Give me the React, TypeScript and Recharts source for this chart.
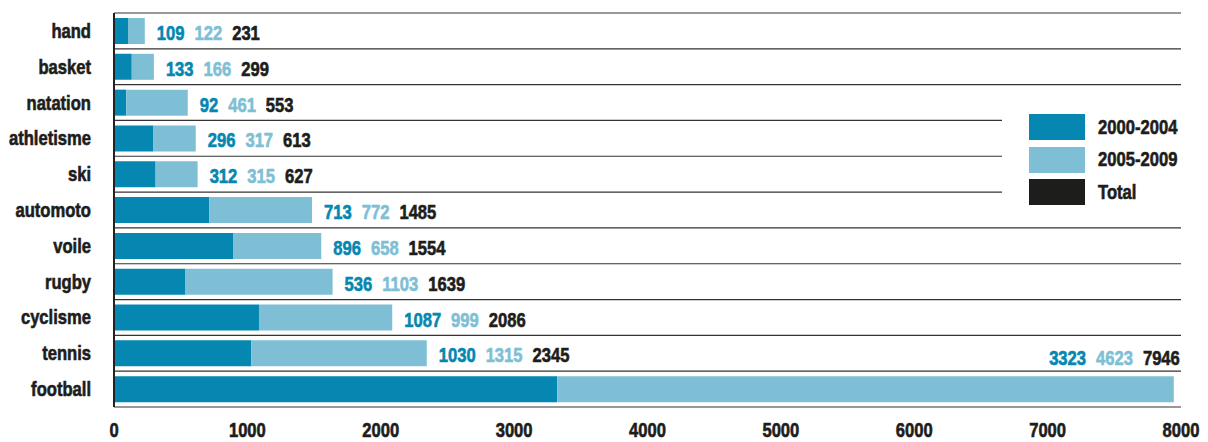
import { Bar, BarChart, CartesianGrid, LabelList, XAxis, YAxis } from "recharts";

const CATEGORIES = [
  "hand",
  "basket",
  "natation",
  "athletisme",
  "ski",
  "automoto",
  "voile",
  "rugby",
  "cyclisme",
  "tennis",
  "football",
];
const PERIOD_1 = [109, 133, 92, 296, 312, 713, 896, 536, 1087, 1030, 3323];
const PERIOD_2 = [122, 166, 461, 317, 315, 772, 658, 1103, 999, 1315, 4623];
const TOTALS = [231, 299, 553, 613, 627, 1485, 1554, 1639, 2086, 2345, 7946];
const X_TICKS = [0, 1000, 2000, 3000, 4000, 5000, 6000, 7000, 8000];

const DARK_BLUE = "#0587b1";
const LIGHT_BLUE = "#7fbfd6";
const BLACK = "#1d1d1b";
const FONT = '"Liberation Sans", Arial, sans-serif';
// no condensed face installed, so squeeze the regular bold one
const SQUEEZE = 0.83;
const HEAVY = 0.6;

const data = CATEGORIES.map((name, i) => ({
  name,
  p1: PERIOD_1[i],
  p2: PERIOD_2[i],
  total: TOTALS[i],
}));

const LEGEND = [
  { label: "2000-2004", color: DARK_BLUE },
  { label: "2005-2009", color: LIGHT_BLUE },
  { label: "Total", color: BLACK },
];

function NarrowText({
  x,
  y,
  anchor,
  fill = BLACK,
  children,
}: {
  x: number;
  y: number;
  anchor: "start" | "middle" | "end";
  fill?: string;
  children: any;
}) {
  return (
    <g transform={`translate(${x},${y}) scale(${SQUEEZE},1)`}>
      <text
        x={0}
        y={0}
        textAnchor={anchor}
        fontFamily={FONT}
        fontWeight={700}
        fontSize={20}
        fill={fill}
        stroke={fill}
        strokeWidth={HEAVY}
      >
        {children}
      </text>
    </g>
  );
}

function ValueLabels(props: any) {
  const { x, y, width, height, index } = props;
  const cy = Number(y) + Number(height) / 2;
  const end = Number(x) + Number(width);
  const isLast = index === data.length - 1;
  const row = data[index];
  const gap = 10 / SQUEEZE;
  return (
    <NarrowText
      x={isLast ? end + 6 : end + 12}
      y={isLast ? cy - 24 : cy + 9}
      anchor={isLast ? "end" : "start"}
    >
      <tspan fill={DARK_BLUE} stroke={DARK_BLUE}>
        {row.p1}
      </tspan>
      <tspan fill={LIGHT_BLUE} stroke={LIGHT_BLUE} dx={gap}>
        {row.p2}
      </tspan>
      <tspan fill={BLACK} stroke={BLACK} dx={gap}>
        {row.total}
      </tspan>
    </NarrowText>
  );
}

function CategoryTick(props: any) {
  const { x, y, payload } = props;
  return (
    <NarrowText x={Number(x)} y={Number(y) + 7} anchor="end">
      {payload.value}
    </NarrowText>
  );
}

function ValueTick(props: any) {
  const { x, y, payload } = props;
  return (
    <NarrowText x={Number(x)} y={Number(y)} anchor="middle">
      {payload.value}
    </NarrowText>
  );
}

export default function App() {
  return (
    <div
      style={{
        position: "absolute",
        left: 0,
        top: 0,
        width: 1208,
        height: 442,
        background: "#fff",
        overflow: "hidden",
      }}
    >
      <BarChart
        width={1208}
        height={442}
        data={data}
        layout="vertical"
        margin={{ top: 13, right: 27, left: 0, bottom: 0 }}
        barCategoryGap={0}
      >
        <CartesianGrid
          vertical={false}
          stroke="#333"
          strokeWidth={1.2}
          horizontalCoordinatesGenerator={({ offset }: any) =>
            Array.from({ length: CATEGORIES.length + 1 }, (_, i) =>
              offset.top + (i * offset.height) / CATEGORIES.length
            )
          }
        />
        <XAxis
          type="number"
          domain={[0, 8000]}
          ticks={X_TICKS}
          axisLine={false}
          tickLine={false}
          tickSize={0}
          tickMargin={30}
          height={35}
          interval={0}
          tick={<ValueTick />}
        />
        <YAxis
          type="category"
          dataKey="name"
          width={114}
          axisLine={{ stroke: "#222", strokeWidth: 2 }}
          tickLine={false}
          tickSize={0}
          tickMargin={23}
          interval={0}
          tick={<CategoryTick />}
        />
        <Bar dataKey="p1" stackId="s" fill={DARK_BLUE} barSize={26} isAnimationActive={false} />
        <Bar dataKey="p2" stackId="s" fill={LIGHT_BLUE} barSize={26} isAnimationActive={false}>
          <LabelList dataKey="total" content={<ValueLabels />} />
        </Bar>
      </BarChart>

      <div
        style={{
          position: "absolute",
          left: 1002,
          top: 100,
          width: 200,
          height: 112,
          background: "#fff",
          fontFamily: FONT,
          fontWeight: 700,
          fontSize: 20,
          color: BLACK,
          WebkitTextStroke: `${HEAVY}px ${BLACK}`,
        }}
      >
        {LEGEND.map((item, i) => (
          <div
            key={item.label}
            style={{
              position: "absolute",
              left: 27,
              top: 14 + i * 32.5,
              display: "flex",
              alignItems: "center",
              height: 26,
              whiteSpace: "nowrap",
            }}
          >
            <span style={{ width: 56, height: 26, background: item.color, display: "inline-block" }} />
            <span
              style={{
                marginLeft: 13,
                display: "inline-block",
                transform: `scaleX(${SQUEEZE})`,
                transformOrigin: "left center",
              }}
            >
              {item.label}
            </span>
          </div>
        ))}
      </div>
    </div>
  );
}
